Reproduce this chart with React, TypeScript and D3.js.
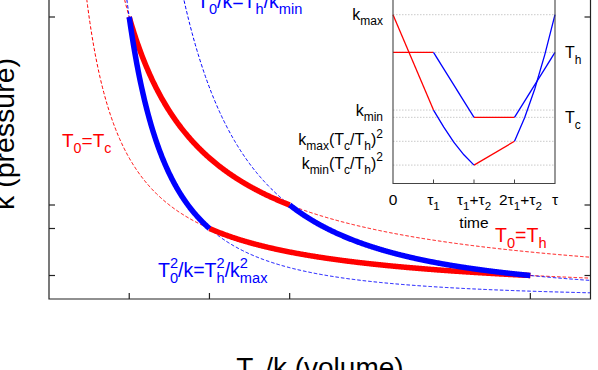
import React from 'react';
import * as d3 from 'd3';

const W = 598;
const H = 370;
const FONT = '"Liberation Sans", Arial, Helvetica, sans-serif';
const RED = '#ff0000';
const BLUE = '#0000ff';

// main panel: cycle parameters (arbitrary units)
const pressureLevels = [3, 1]; // k_max, k_min
const tempLevels = [2, 1]; // T_h, T_c
// corner volumes (T0/k) and pressures of the cycle, A -> B -> C -> D
const cornerV = [2 / 3, 2, 4, 4 / 3];
const cornerK = [3, 1, 0.25, 0.75];

// inset: time traces of k (pressure) and T0 (temperature)
const insetTimes = [0, 1, 2, 3, 4];
const insetKLevels = [1, 0.435, 0.25, 0.109];
const insetTLevels = [0.777, 0.392];
const kTraceRed1 = [[0, 1], [1, 0.435]];
const kTraceBlue1 = [[1, 0.435], [1.25, 0.335], [1.5, 0.245], [1.75, 0.17], [2, 0.109]];
const kTraceRed2 = [[2, 0.109], [3, 0.25]];
const kTraceBlue2 = [[3, 0.25], [3.25, 0.39], [3.5, 0.56], [3.75, 0.765], [4, 1]];
const tTraceRed1 = [[0, 0.777], [1, 0.777]];
const tTraceBlue1 = [[1, 0.777], [2, 0.392]];
const tTraceRed2 = [[2, 0.392], [3, 0.392]];
const tTraceBlue2 = [[3, 0.392], [4, 0.777]];

type Part = { t?: string; sub?: string; sup?: string };

const timeLabels: Part[][] = [
  [{ t: '0' }],
  [{ t: 'τ' }, { sub: '1' }],
  [{ t: 'τ' }, { sub: '1' }, { t: '+τ' }, { sub: '2' }],
  [{ t: '2τ' }, { sub: '1' }, { t: '+τ' }, { sub: '2' }],
  [{ t: 'τ' }],
];
const timeLabelShift = [0, 0, 0, 6, 0];
const kLabels: Part[][] = [
  [{ t: 'k' }, { sub: 'max' }],
  [{ t: 'k' }, { sub: 'min' }],
  [{ t: 'k' }, { sub: 'max' }, { t: '(T' }, { sub: 'c' }, { t: '/T' }, { sub: 'h' }, { t: ')' }, { sup: '2' }],
  [{ t: 'k' }, { sub: 'min' }, { t: '(T' }, { sub: 'c' }, { t: '/T' }, { sub: 'h' }, { t: ')' }, { sup: '2' }],
];
const tLabels: Part[][] = [
  [{ t: 'T' }, { sub: 'h' }],
  [{ t: 'T' }, { sub: 'c' }],
];

function Rich({ x, y, fs, parts, fill = '#000', anchor = 'start', transform }: any) {
  const small = fs * 0.75;
  const subShift = fs * 0.33;
  const supShift = fs * 0.45;
  const spans: any[] = [];
  let off = 0;
  parts.forEach((p: Part, i: number) => {
    if (p.t !== undefined) {
      spans.push(<tspan key={i} dy={-off} fontSize={fs}>{p.t}</tspan>);
      off = 0;
    } else {
      if (p.sup) {
        spans.push(<tspan key={i + 'p'} dy={-supShift - off} fontSize={small}>{p.sup}</tspan>);
        off = -supShift;
      }
      if (p.sub) {
        const dx = p.sup ? -small * 0.556 * p.sup.length : 0;
        spans.push(<tspan key={i + 'b'} dx={dx} dy={subShift - off} fontSize={small}>{p.sub}</tspan>);
        off = subShift;
      }
    }
  });
  return (
    <text x={x} y={y} fill={fill} textAnchor={anchor} fontFamily={FONT} fontSize={fs} transform={transform}>
      {spans}
    </text>
  );
}

export default function App() {
  const [kmax, kmin] = pressureLevels;
  const [Th, Tc] = tempLevels;

  const x = d3.scaleLinear().domain([0, 4.5]).range([49, 590.5]);
  const y = d3.scaleLinear().domain([0, 3.5]).range([299, -30]);

  const line = d3.line<[number, number]>().x((d) => x(d[0])).y((d) => y(d[1]));

  // isotherm: k = T0 / V ; adiabat: T0^2/k = c  ->  k = c / V^2
  const iso = (T: number, v0: number, v1: number) =>
    d3.range(v0, v1, 0.005).concat([v1]).map((v) => [v, T / v] as [number, number]);
  const adi = (c: number, v0: number, v1: number) =>
    d3.range(v0, v1, 0.005).concat([v1]).map((v) => [v, c / (v * v)] as [number, number]);

  const cA = (Th * Th) / kmax;
  const cB = (Th * Th) / kmin;

  const xi = d3.scaleLinear().domain([0, 4]).range([393, 555]);
  const yi = d3.scaleLinear().domain([0, 1]).range([183.5, 14.7]);
  const iline = d3.line<number[]>().x((d) => xi(d[0])).y((d) => yi(d[1]));

  const axisCol = '#222';

  return (
    <svg width={W} height={H} style={{ position: 'absolute', left: 0, top: 0, background: '#fff' }}>
      <defs>
        <clipPath id="plotClip">
          <rect x={x(0)} y={-40} width={x(4.5) - x(0)} height={299 + 40} />
        </clipPath>
      </defs>
      <rect x={0} y={0} width={W} height={H} fill="#fff" />

      <g clipPath="url(#plotClip)">
        {/* dashed reference curves */}
        {tempLevels.map((T, i) => (
          <path key={'iso' + i} d={line(iso(T, 0.2, 4.6)) || ''} fill="none" stroke={RED} strokeWidth={1} strokeDasharray="3.5,2" />
        ))}
        {[cA, cB].map((c, i) => (
          <path key={'adi' + i} d={line(adi(c, 0.3, 4.6)) || ''} fill="none" stroke={BLUE} strokeWidth={1} strokeDasharray="3.5,2" />
        ))}

        {/* thick cycle */}
        <path d={line(iso(Th, cornerV[0], cornerV[1])) || ''} fill="none" stroke={RED} strokeWidth={5.5} />
        <path d={line(iso(Tc, cornerV[3], cornerV[2])) || ''} fill="none" stroke={RED} strokeWidth={5.5} />
        <path d={line(adi(cB, cornerV[1], cornerV[2])) || ''} fill="none" stroke={BLUE} strokeWidth={5.5} />
        <path d={line(adi(cA, cornerV[0], cornerV[3])) || ''} fill="none" stroke={BLUE} strokeWidth={5.5} />
      </g>

      {/* frame */}
      <path d={`M${x(0)},-40V${y(0)}H${x(4.5)}V-40`} fill="none" stroke={axisCol} strokeWidth={1.2} />
      {cornerK.map((k, i) => (
        <g key={'yt' + i}>
          <line x1={x(0)} x2={x(0) + 6} y1={y(k)} y2={y(k)} stroke={axisCol} strokeWidth={1.2} />
          <line x1={x(4.5)} x2={x(4.5) - 6} y1={y(k)} y2={y(k)} stroke={axisCol} strokeWidth={1.2} />
        </g>
      ))}
      {cornerV.map((v, i) => (
        <line key={'xt' + i} x1={x(v)} x2={x(v)} y1={y(0)} y2={y(0) - 6} stroke={axisCol} strokeWidth={1.2} />
      ))}

      {/* curve labels */}
      <Rich x={62} y={147} fs={19} fill={RED} parts={[{ t: 'T' }, { sub: '0' }, { t: '=T' }, { sub: 'c' }]} />
      <Rich x={495} y={242} fs={19.5} fill={RED} parts={[{ t: 'T' }, { sub: '0' }, { t: '=T' }, { sub: 'h' }]} />
      <Rich x={158} y={277} fs={19.5} fill={BLUE}
        parts={[{ t: 'T' }, { sup: '2', sub: '0' }, { t: '/k=T' }, { sup: '2', sub: 'h' }, { t: '/k' }, { sup: '2', sub: 'max' }]} />
      <Rich x={197} y={8} fs={19.5} fill={BLUE}
        parts={[{ t: 'T' }, { sup: '2', sub: '0' }, { t: '/k=T' }, { sup: '2', sub: 'h' }, { t: '/k' }, { sup: '2', sub: 'min' }]} />

      {/* axis titles */}
      <Rich x={0} y={0} fs={28.5} anchor="middle" transform="translate(14,134) rotate(-90)" parts={[{ t: 'k (pressure)' }]} />
      <Rich x={320} y={377} fs={28} anchor="middle" parts={[{ t: 'T' }, { sub: '0' }, { t: '/k (volume)' }]} />

      {/* inset */}
      <rect x={xi(0)} y={-10} width={xi(4) - xi(0)} height={yi(0) + 10} fill="#fff" />
      {insetKLevels.concat(insetTLevels).map((v, i) => (
        <line key={'ig' + i} x1={xi(0)} x2={xi(4)} y1={yi(v)} y2={yi(v)} stroke="#c4c4c4" strokeWidth={0.9} strokeDasharray="1.5,1.5" />
      ))}
      <path d={iline(kTraceRed1) || ''} fill="none" stroke={RED} strokeWidth={1.3} />
      <path d={iline(kTraceRed2) || ''} fill="none" stroke={RED} strokeWidth={1.3} />
      <path d={iline(tTraceRed1) || ''} fill="none" stroke={RED} strokeWidth={1.3} />
      <path d={iline(tTraceRed2) || ''} fill="none" stroke={RED} strokeWidth={1.3} />
      <path d={iline(kTraceBlue1) || ''} fill="none" stroke={BLUE} strokeWidth={1.3} />
      <path d={iline(kTraceBlue2) || ''} fill="none" stroke={BLUE} strokeWidth={1.3} />
      <path d={iline(tTraceBlue1) || ''} fill="none" stroke={BLUE} strokeWidth={1.3} />
      <path d={iline(tTraceBlue2) || ''} fill="none" stroke={BLUE} strokeWidth={1.3} />
      <path d={`M${xi(0)},-10V${yi(0)}H${xi(4)}V-10`} fill="none" stroke="#444" strokeWidth={1.1} />
      {insetTimes.slice(1, 4).map((t) => (
        <line key={'it' + t} x1={xi(t)} x2={xi(t)} y1={yi(0)} y2={yi(0) - 4} stroke="#444" strokeWidth={1} />
      ))}
      {insetTimes.map((t, i) => (
        <Rich key={'itl' + i} x={xi(t) + timeLabelShift[i]} y={205} fs={15.5} anchor="middle" parts={timeLabels[i]} />
      ))}
      <Rich x={xi(2)} y={228} fs={15.5} anchor="middle" parts={[{ t: 'time' }]} />
      {insetKLevels.map((v, i) => (
        <Rich key={'ikl' + i} x={383} y={yi(v) + (i < 2 ? 5.5 : 3.5)} fs={16} anchor="end" parts={kLabels[i]} />
      ))}
      {insetTLevels.map((v, i) => (
        <Rich key={'itlv' + i} x={565} y={yi(v) + 6} fs={16} parts={tLabels[i]} />
      ))}
    </svg>
  );
}
